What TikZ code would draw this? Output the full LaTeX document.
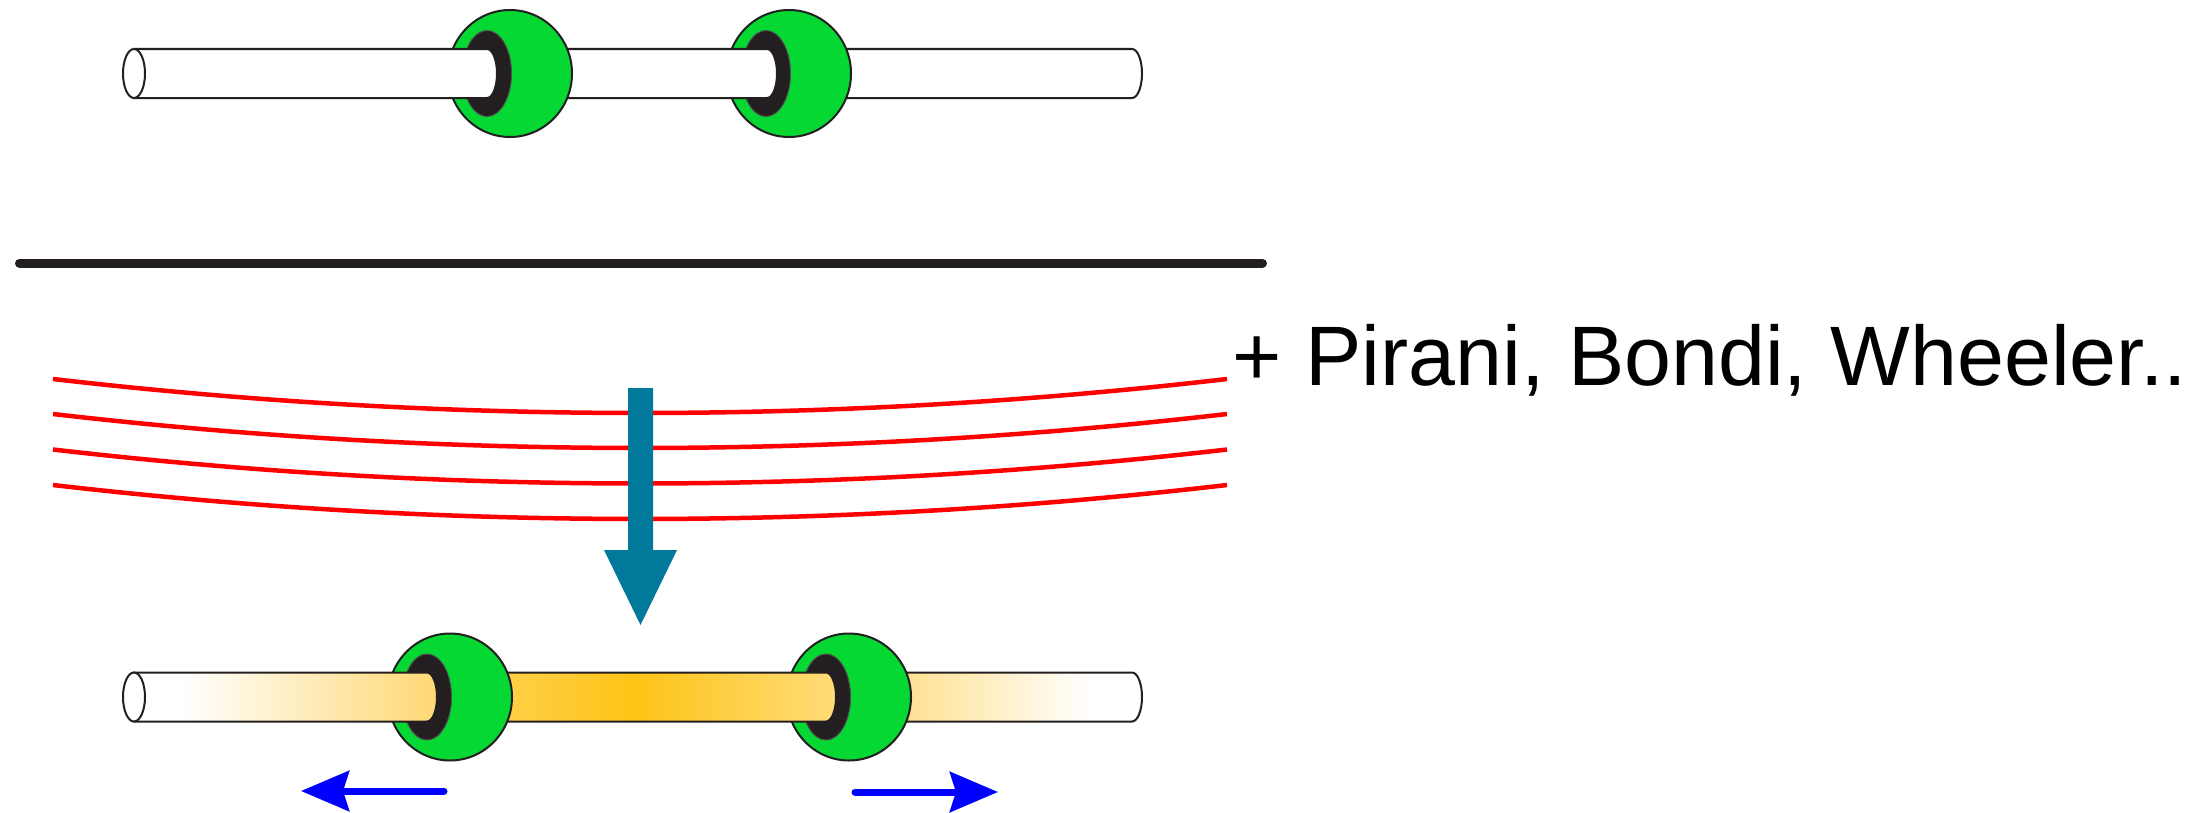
\documentclass[tikz,border=0pt]{standalone}
\usepackage{fontspec}
\setmainfont{Liberation Sans}
\usetikzlibrary{arrows.meta}

\definecolor{ink}{HTML}{231F20}
\definecolor{beadgreen}{HTML}{05D833}
\definecolor{flowteal}{HTML}{00799A}
\definecolor{pushblue}{HTML}{0000FF}
\definecolor{wavered}{HTML}{FF0000}
\definecolor{heatA}{HTML}{FFD873}
\definecolor{heatB}{HTML}{FFD55C}
\definecolor{heatC}{HTML}{FEC416}
\definecolor{heatD}{HTML}{FFDC7A}
\definecolor{heatE}{HTML}{FFD870}

% warm fill along the rod segments (middle 25bp..75bp spans the segment)
\pgfdeclarehorizontalshading{rodleft}{100bp}{color(0bp)=(white); color(33bp)=(white); color(75bp)=(heatA); color(100bp)=(heatA)}
\pgfdeclarehorizontalshading{rodmid}{100bp}{color(0bp)=(heatB); color(25bp)=(heatB); color(49bp)=(heatC); color(75bp)=(heatD); color(100bp)=(heatD)}
\pgfdeclarehorizontalshading{rodright}{100bp}{color(0bp)=(heatE); color(25bp)=(heatE); color(66bp)=(white); color(100bp)=(white)}

\tikzset{
  rodline/.style={draw=ink, line width=0.02cm},
  beadbody/.style={fill=beadgreen, draw=ink, line width=0.02cm},
  beadhole/.style={fill=ink, draw=ink!80, line width=0.01cm},
  wave/.style={draw=wavered, line width=0.045cm},
  push/.style={draw=pushblue, line width=0.07cm, line cap=round,
    -{Stealth[length=0.48cm, width=0.40cm, inset=0.06cm]}},
  divider/.style={draw=ink, line width=0.09cm, line cap=round},
  authors/.style={anchor=base west, inner sep=0pt, font=\fontsize{24pt}{28pt}\selectfont}
}

% rod segment from #1 to a rounded end at #2, centred on height #3
\newcommand\rodpiece[4]{%
  \path[rodline,#4] (#1,#3-24.5) -- (#2-10,#3-24.5)
    arc[start angle=-90, end angle=90, x radius=10, y radius=24.5]
    -- (#1,#3+24.5) -- cycle;}
% bead with its bore, centred at (#1,#2)
\newcommand\beadat[2]{%
  \path[beadbody] (#1,#2) ellipse[x radius=62, y radius=63.5];
  \path[beadhole] (#1-23,#2) ellipse[x radius=24.5, y radius=43];}
% open end of the rod
\newcommand\rodmouth[2]{%
  \path[rodline, fill=white] (#1,#2) ellipse[x radius=11, y radius=24.5];}

\begin{document}
\begin{tikzpicture}[x=0.01cm, y=-0.01cm]
\fill[white] (0,0) rectangle (2209,812);
\useasboundingbox (0,0) rectangle (2209,812);

% upper rod with two beads
\rodpiece{789}{1142}{73.5}{fill=white}
\beadat{789}{73.5}
\rodpiece{510}{777}{73.5}{fill=white}
\beadat{510}{73.5}
\rodpiece{134}{497}{73.5}{fill=white}
\rodmouth{134}{73.5}

% dividing bar
\coordinate (barL) at (19.5,263);
\coordinate (barR) at (1262.5,263);
\draw[divider] (barL) -- (barR);

% incoming wave fronts
\foreach \y in {379,414,449.5,485}{
  \draw[wave] (53,\y) .. controls (444,\y+45.3) and (836,\y+45.3) .. (1227,\y);
}

% block arrow pointing down to the rod
\fill[flowteal] (628,388) -- (653,388) -- (653,550) -- (677,550)
  -- (640.5,625) -- (604,550) -- (628,550) -- cycle;

% lower rod, heated, with two beads
\rodpiece{849}{1142}{697}{shade, shading=rodright}
\beadat{849}{697}
\rodpiece{450}{836}{697}{shade, shading=rodmid}
\beadat{450}{697}
\rodpiece{134}{437}{697}{shade, shading=rodleft}
\rodmouth{134}{697}

% bead motion
\coordinate (leftS) at (444,791);
\coordinate (leftT) at (301,791);
\coordinate (rightS) at (855,792);
\coordinate (rightT) at (998,792);
\draw[push] (leftS) -- (leftT);
\draw[push] (rightS) -- (rightT);

\node[authors] (names) at (1232,385) {+ Pirani, Bondi, Wheeler..};
\end{tikzpicture}
\end{document}
